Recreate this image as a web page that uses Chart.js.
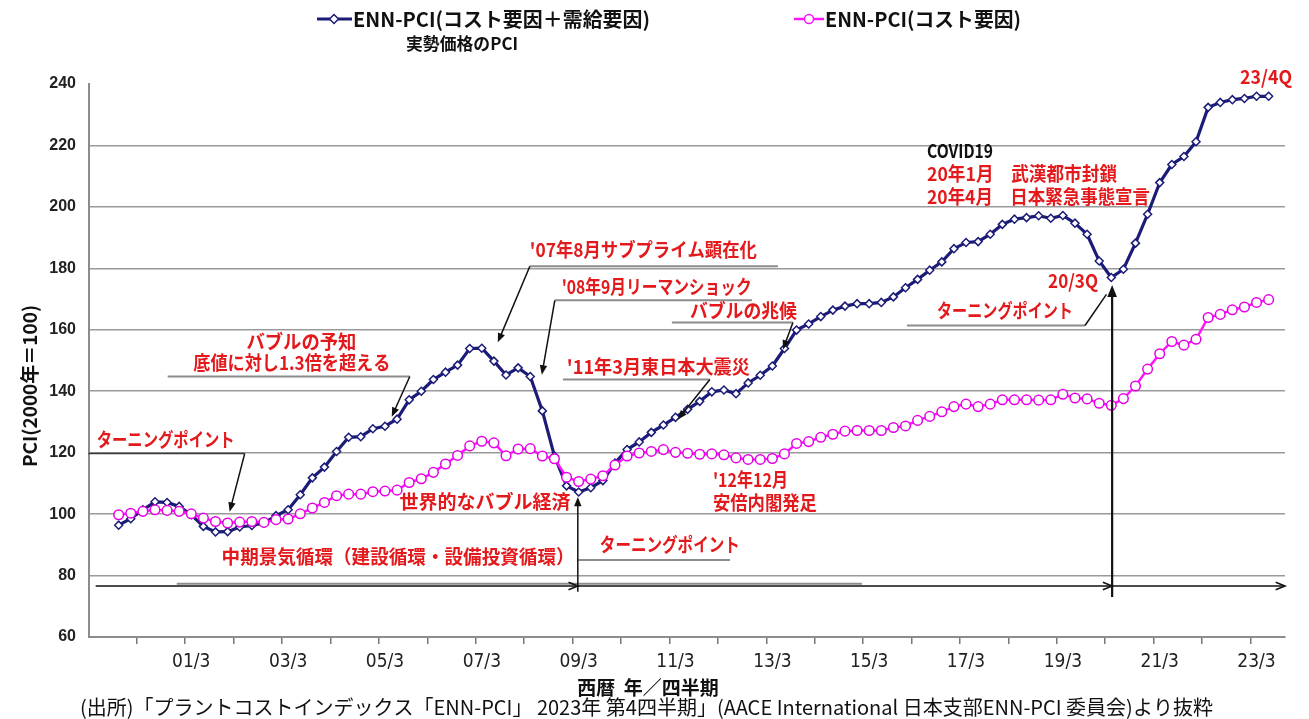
<!DOCTYPE html>
<html lang="ja">
<head>
<meta charset="utf-8">
<title>ENN-PCI</title>
<script src="https://cdn.jsdelivr.net/npm/chart.js@4.4.1/dist/chart.umd.min.js"></script>
<style>
  html, body { margin: 0; padding: 0; background: #fff; }
  #wrap { width: 1309px; height: 719px; }
</style>
</head>
<body>
<div id="wrap"><canvas id="pciChart" width="1309" height="719"></canvas></div>
<script>
    // quarterly values, 96 quarters, index 0 = first plotted quarter
    const pciCostDemand = [
        96.4, 98.5, 101.4, 104.0, 103.8, 102.5, 99.8, 96.0, 94.2, 94.3, 95.8, 96.3,
        97.1, 99.5, 101.4, 106.3, 111.8, 115.3, 120.4, 125.0, 125.2, 127.8, 128.6, 130.9,
        137.2, 140.0, 143.8, 146.2, 148.5, 153.9, 154.0, 149.8, 145.3, 147.6, 144.8, 133.6,
        118.9, 109.2, 107.2, 108.6, 110.9, 116.6, 121.0, 123.5, 126.6, 129.0, 131.5, 134.1,
        136.7, 139.8, 140.4, 139.2, 142.7, 145.2, 148.2, 153.9, 159.9, 161.9, 164.3, 166.4,
        167.7, 168.5, 168.5, 168.9, 170.7, 173.7, 176.4, 179.4, 182.1, 186.4, 188.4, 188.7,
        191.1, 194.3, 196.0, 196.5, 197.1, 196.3, 197.2, 194.7, 191.1, 182.4, 177.0, 179.7,
        188.2, 197.6, 207.9, 213.8, 216.4, 221.2, 232.4, 234.0, 234.9, 235.3, 236.0, 236.0
    ];
    const pciCost = [
        99.8, 100.3, 100.9, 101.4, 101.2, 100.9, 100.1, 98.7, 97.6, 97.1, 97.4, 97.6,
        97.3, 98.2, 98.4, 100.1, 102.0, 103.8, 106.0, 106.5, 106.5, 107.3, 107.5, 107.8,
        110.3, 111.5, 113.6, 116.3, 119.1, 122.2, 123.7, 123.2, 119.0, 121.2, 121.3, 118.9,
        118.0, 112.0, 110.6, 111.4, 112.5, 116.0, 118.9, 119.9, 120.4, 121.0, 120.1, 119.8,
        119.5, 119.6, 119.3, 118.3, 117.8, 117.8, 118.1, 119.6, 123.0, 123.6, 125.0, 126.0,
        127.0, 127.2, 127.2, 127.2, 128.2, 128.7, 130.5, 131.8, 133.3, 135.0, 135.8, 135.0,
        135.8, 137.2, 137.2, 137.2, 137.1, 137.2, 139.0, 137.8, 137.5, 136.1, 135.4, 137.6,
        141.7, 147.2, 152.2, 156.2, 155.0, 156.9, 164.0, 165.0, 166.5, 167.4, 168.9, 169.8
    ];
    const tickLabels = ['01/3', '03/3', '05/3', '07/3', '09/3', '11/3', '13/3', '15/3', '17/3', '19/3', '21/3', '23/3'];
    const firstLabelQuarter = 6;   // quarter index of '01/3'
    const yTicks = [60, 80, 100, 120, 140, 160, 180, 200, 220, 240];

    const RED = '#e3191c';
    const JP = '"Noto Sans CJK JP", "Liberation Sans", sans-serif';

    // notes in data units (x = quarter index, y = PCI); w = max width in px
    const notes = [
        { text: 'バブルの予知', x: 15.1, y: 156.2, w: 110, align: 'center' },
        { text: '底値に対し1.3倍を超える', x: 14.3, y: 149.3, w: 197, align: 'center' },
        { text: 'ターニングポイント', x: -1.82, y: 124.2, w: 138 },
        { text: '世界的なバブル経済', x: 23.2, y: 104, w: 178 },
        { text: '中期景気循環（建設循環・設備投資循環）', x: 8.5, y: 86.1, w: 353 },
        { text: 'ターニングポイント', x: 39.75, y: 90, w: 140 },
        { text: "'07年8月サブプライム顕在化", x: 33.97, y: 186.2, w: 227 },
        { text: "'08年9月リーマンショック", x: 36.6, y: 174.1, w: 190 },
        { text: 'バブルの兆候', x: 47.19, y: 166.3, w: 107 },
        { text: "'11年3月東日本大震災", x: 37.02, y: 148, w: 183 },
        { text: "'12年12月", x: 49.09, y: 111.2, w: 75 },
        { text: '安倍内閣発足', x: 49.09, y: 103.7, w: 104 },
        { text: 'COVID19', x: 66.78, y: 218.2, w: 66, color: '#111' },
        { text: '20年1月　武漢都市封鎖', x: 66.78, y: 210.7, w: 190 },
        { text: '20年4月　日本緊急事態宣言', x: 66.78, y: 203.2, w: 223 },
        { text: '20/3Q', x: 76.78, y: 175.8, w: 50 },
        { text: 'ターニングポイント', x: 67.6, y: 166.3, w: 136 },
        { text: '23/4Q', x: 92.64, y: 242.3, w: 52 }
    ];
    // [x1, x2, y]
    const underlines = [
        [4.05, 24.05, 144.8], [37.93, 50.5, 85.1], [33.97, 54.46, 180.7],
        [36.03, 52.31, 169.6], [45.7, 55.7, 162.4], [36.7, 48.84, 143.8],
        [65.12, 79.83, 161.4], [4.8, 61.4, 77.3]
    ];
    // [x1, y1, x2, y2]
    const pointers = [
        [24.05, 144.8, 22.56, 131.7], [10.41, 119.7, 9.17, 100.8],
        [37.93, 74.7, 37.93, 105.6], [33.97, 180.7, 31.32, 155.9],
        [36.03, 169.6, 34.96, 145.4], [55.7, 162.4, 54.88, 153.6],
        [48.84, 143.8, 46.2, 130.8]
    ];
    const cycleArrows = [[-1.9, 76.6, 37.93, 76.6], [37.93, 76.6, 82.07, 76.6], [82.07, 76.6, 96.35, 76.6]];

    function drawArrow(ctx, x1, y1, x2, y2, head, filled) {
        const a = Math.atan2(y2 - y1, x2 - x1);
        ctx.beginPath();
        ctx.moveTo(x1, y1);
        ctx.lineTo(x2 - (filled ? head * 0.6 * Math.cos(a) : 0), y2 - (filled ? head * 0.6 * Math.sin(a) : 0));
        ctx.stroke();
        ctx.beginPath();
        ctx.moveTo(x2 - head * Math.cos(a - 0.38), y2 - head * Math.sin(a - 0.38));
        ctx.lineTo(x2, y2);
        ctx.lineTo(x2 - head * Math.cos(a + 0.38), y2 - head * Math.sin(a + 0.38));
        if (filled) { ctx.closePath(); ctx.fill(); } else { ctx.stroke(); }
    }

    const notesPlugin = {
        id: 'notes',
        afterDatasetsDraw(chart) {
            const ctx = chart.ctx;
            const xs = chart.scales.x, ys = chart.scales.y;
            const px = v => xs.getPixelForValue(v);
            const py = v => ys.getPixelForValue(v);
            ctx.save();

            // the first turning point line is dark
            ctx.strokeStyle = '#3a3a3a';
            ctx.lineWidth = 1.5;
            ctx.beginPath();
            ctx.moveTo(px(-2.5), py(119.7));
            ctx.lineTo(px(10.41), py(119.7));
            ctx.stroke();

            ctx.strokeStyle = '#8c8c8c';
            ctx.lineWidth = 2;
            underlines.forEach(u => {
                ctx.beginPath();
                ctx.moveTo(px(u[0]), py(u[2]));
                ctx.lineTo(px(u[1]), py(u[2]));
                ctx.stroke();
            });

            ctx.strokeStyle = '#111';
            ctx.fillStyle = '#111';
            ctx.lineWidth = 1.5;
            pointers.forEach(p => drawArrow(ctx, px(p[0]), py(p[1]), px(p[2]), py(p[3]), 10, true));
            cycleArrows.forEach(p => drawArrow(ctx, px(p[0]), py(p[1]), px(p[2]), py(p[3]), 10, false));
            // 20/3Q turning point
            ctx.beginPath();
            ctx.moveTo(px(79.83), py(161.4));
            ctx.lineTo(px(81.6), py(171.5));
            ctx.stroke();
            ctx.lineWidth = 2.2;
            drawArrow(ctx, px(82.07), py(73), px(82.07), py(174.6), 13, true);

            ctx.font = 'bold 19px ' + JP;
            ctx.textBaseline = 'middle';
            notes.forEach(n => {
                ctx.fillStyle = n.color || RED;
                ctx.textAlign = n.align || 'left';
                ctx.fillText(n.text, px(n.x), py(n.y), n.w);
            });
            ctx.restore();
        },
        afterDraw(chart) {
            const ctx = chart.ctx;
            ctx.save();
            // legend
            ctx.lineWidth = 3;
            ctx.strokeStyle = '#1b1b78';
            ctx.beginPath(); ctx.moveTo(317, 19); ctx.lineTo(352, 19); ctx.stroke();
            ctx.fillStyle = '#fff';
            ctx.lineWidth = 1.5;
            ctx.beginPath(); ctx.moveTo(334, 14.5); ctx.lineTo(338.5, 19); ctx.lineTo(334, 23.5); ctx.lineTo(329.5, 19); ctx.closePath();
            ctx.fill(); ctx.stroke();

            ctx.lineWidth = 2.5;
            ctx.strokeStyle = '#ff14ff';
            ctx.beginPath(); ctx.moveTo(794, 19); ctx.lineTo(824, 19); ctx.stroke();
            ctx.lineWidth = 1.5;
            ctx.beginPath(); ctx.arc(809, 19, 4.5, 0, Math.PI * 2); ctx.fill(); ctx.stroke();

            ctx.fillStyle = '#111';
            ctx.textBaseline = 'middle';
            ctx.textAlign = 'left';
            ctx.font = 'bold 20px ' + JP;
            ctx.fillText('ENN-PCI(コスト要因＋需給要因)', 353, 19, 297);
            ctx.fillText('ENN-PCI(コスト要因)', 825, 19, 196);
            ctx.textAlign = 'center';
            ctx.font = 'bold 17px ' + JP;
            ctx.fillText('実勢価格のPCI', 462, 44, 112);

            // axis titles and source
            ctx.font = 'bold 19px ' + JP;
            ctx.fillText('西暦  年／四半期', 648, 688, 172);
            ctx.save();
            ctx.translate(30, 386);
            ctx.rotate(-Math.PI / 2);
            ctx.fillText('PCI(2000年＝100)', 0, 0, 166);
            ctx.restore();

            ctx.textAlign = 'left';
            ctx.font = '20px ' + JP;
            ctx.fillText('(出所)「プラントコストインデックス「ENN-PCI」 2023年 第4四半期」(AACE International 日本支部ENN-PCI 委員会)より抜粋', 80, 707, 1142);
            ctx.restore();
        }
    };

    const points = arr => arr.map((v, i) => ({ x: i, y: v }));

    new Chart(document.getElementById('pciChart'), {
        type: 'line',
        data: {
            datasets: [{
                label: 'ENN-PCI(コスト要因)',
                data: points(pciCost),
                borderColor: '#ff14ff',
                borderWidth: 2.5,
                pointStyle: 'circle',
                pointRadius: 4.8,
                pointBackgroundColor: '#fff',
                pointBorderColor: '#e600e6',
                pointBorderWidth: 1.5,
                tension: 0,
                order: 1
            }, {
                label: 'ENN-PCI(コスト要因＋需給要因)',
                data: points(pciCostDemand),
                borderColor: '#1b1b78',
                borderWidth: 3.2,
                pointStyle: 'rectRot',
                pointRadius: 4,
                pointBackgroundColor: '#fff',
                pointBorderColor: '#1b1b78',
                pointBorderWidth: 1.5,
                tension: 0,
                order: 2
            }]
        },
        options: {
            responsive: false,
            animation: false,
            events: [],
            layout: { padding: { top: 84, right: 24, left: 0, bottom: 0 } },
            plugins: { legend: { display: false }, tooltip: { enabled: false } },
            scales: {
                x: {
                    type: 'linear',
                    min: -2.45,
                    max: 96.35,
                    afterFit(scale) { scale.height = 82; },
                    afterBuildTicks(scale) {
                        const t = [];
                        for (let v = 1.5; v < 96; v += 4) t.push({ value: v });
                        tickLabels.forEach((lab, k) => t.push({ value: firstLabelQuarter + 8 * k }));
                        t.sort((a, b) => a.value - b.value);
                        scale.ticks = t;
                    },
                    ticks: {
                        autoSkip: false,
                        maxRotation: 0,
                        padding: 7,
                        color: '#222',
                        font: { size: 19, family: '"DejaVu Sans Condensed", "Liberation Sans", sans-serif' },
                        callback(value) {
                            const k = (value - firstLabelQuarter) / 8;
                            return Number.isInteger(k) && tickLabels[k] ? tickLabels[k] : '';
                        }
                    },
                    grid: {
                        drawOnChartArea: false,
                        tickLength: 7,
                        lineWidth: 1.5,
                        color: c => (c.tick && c.tick.value % 4 === 1.5) ? '#777' : 'rgba(0,0,0,0)'
                    },
                    border: { color: '#8c8c8c', width: 2 }
                },
                y: {
                    min: 60,
                    max: 240,
                    afterFit(scale) { scale.width = 89; },
                    afterBuildTicks(scale) { scale.ticks = yTicks.map(v => ({ value: v })); },
                    ticks: {
                        padding: 13,
                        color: '#222',
                        font: { size: 16, weight: 'bold', family: '"Liberation Sans", Arial, sans-serif' }
                    },
                    grid: {
                        drawTicks: false,
                        lineWidth: 1.5,
                        color: c => (c.tick && (c.tick.value === 240 || c.tick.value === 60)) ? 'rgba(0,0,0,0)' : '#9a9a9a'
                    },
                    border: { color: '#8c8c8c', width: 2 }
                }
            }
        },
        plugins: [notesPlugin]
    });
</script>
</body>
</html>
